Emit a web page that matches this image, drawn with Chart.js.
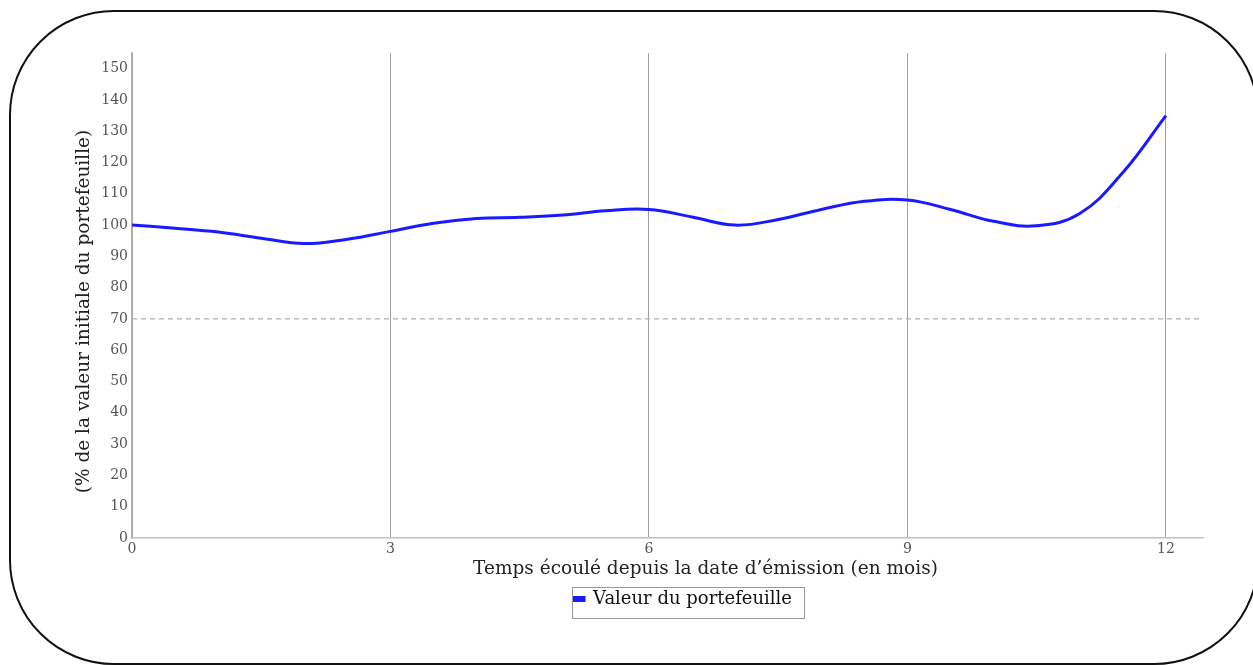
<!DOCTYPE html>
<html>
<head>
<meta charset="utf-8">
<script src="https://cdn.jsdelivr.net/npm/chart.js@4.4.1/dist/chart.umd.min.js"></script>
<style>
  html, body { margin: 0; padding: 0; background: #fff; overflow: hidden; }
  #frame { position: absolute; left: 9px; top: 10px; width: 1246px; height: 651px;
           border: 2px solid #111; border-radius: 105px; }
  #wrap { position: absolute; left: 0; top: 0; width: 1253px; height: 665px; }
</style>
</head>
<body>
<div id="frame"></div>
<div id="wrap"><canvas id="c"></canvas></div>
<script>
const months = [0, 0.5, 1, 1.5, 2, 2.5, 3, 3.5, 4, 4.5, 5, 5.5, 6, 6.5, 7, 7.5, 8, 8.5, 9, 9.5, 10, 10.5, 11, 11.5, 12];
const portfolioValues = [100, 99, 97.8, 95.8, 94.1, 95.5, 98, 100.6, 102.1, 102.5, 103.2, 104.6, 105, 102.6, 100, 101.8, 105, 107.6, 108, 105, 101.2, 99.8, 103.7, 116.8, 135];
const seriesLabel = 'Valeur du portefeuille';
const thresholdLevel = 70;
const xTicks = [0, 3, 6, 9, 12];
const yTicks = [0, 10, 20, 30, 40, 50, 60, 70, 80, 90, 100, 110, 120, 130, 140, 150];
const xTitle = 'Temps écoulé depuis la date d’émission (en mois)';
const yTitle = '(% de la valeur initiale du portefeuille)';

const X_MAX = 12.43;
const Y_MAX = 155;
const FONT = 'DejaVu Serif';

const shiftPlugin = {
  id: 'shiftPlugin',
  beforeDraw(chart) {
    const xs = chart.scales.x;
    if (xs && !xs._patched) {
      const orig = xs.drawTitle.bind(xs);
      xs.drawTitle = function () {
        const l = this.left, r = this.right, dx = 38;
        this.left += dx; this.right += dx;
        orig();
        this.left = l; this.right = r;
      };
      xs._patched = true;
    }
    const ys = chart.scales.y;
    if (ys && !ys._patched) {
      const origY = ys.drawTitle.bind(ys);
      ys.drawTitle = function () {
        const t = this.top, b = this.bottom, dy = 16;
        this.top += dy; this.bottom += dy;
        origY();
        this.top = t; this.bottom = b;
      };
      ys._patched = true;
    }
    const lg = chart.legend;
    if (lg && !lg._patched) {
      const origDraw = lg.draw.bind(lg);
      lg.draw = function () {
        const hb = this.legendHitBoxes[0];
        if (!hb) { origDraw(); return; }
        const target = 683;
        const dx = target - (hb.left + hb.width / 2);
        const l = this.left, r = this.right;
        this.left += dx; this.right += dx;
        origDraw();
        this.left = l; this.right = r;
        const ctx = this.ctx;
        ctx.save();
        ctx.strokeStyle = '#9a9a9a';
        ctx.lineWidth = 1;
        ctx.strokeRect(Math.round(hb.left + dx - 2) + 0.5, Math.round(this.top) + 0.5,
                       Math.round(hb.width + 14), Math.round(this.bottom - this.top));
        ctx.restore();
      };
      lg._patched = true;
    }
  }
};

new Chart(document.getElementById('c'), {
  type: 'line',
  data: {
    datasets: [
      {
        label: seriesLabel,
        data: months.map((m, i) => ({ x: m, y: portfolioValues[i] })),
        borderColor: '#1a1aff',
        backgroundColor: '#1a1aff',
        borderWidth: 3,
        pointRadius: 0,
        tension: 0.4,
        fill: false
      },
      {
        label: 'seuil',
        data: [{ x: 0, y: thresholdLevel }, { x: X_MAX, y: thresholdLevel }],
        borderColor: '#b0b0b0',
        borderWidth: 1.2,
        borderDash: [5, 4],
        pointRadius: 0,
        fill: false
      }
    ]
  },
  options: {
    responsive: true,
    maintainAspectRatio: false,
    animation: false,
    events: [],
    layout: { padding: { left: 66, right: 50, top: 53, bottom: 47 } },
    scales: {
      x: {
        type: 'linear',
        min: 0,
        max: X_MAX,
        afterBuildTicks(scale) { scale.ticks = xTicks.map(v => ({ value: v })); },
        afterFit(scale) { scale.height = 49; },
        ticks: {
          font: { family: FONT, size: 14 },
          color: '#555',
          padding: 3,
          maxRotation: 0,
          callback: v => String(v)
        },
        grid: { display: true, color: '#a0a0a0', lineWidth: 1, drawTicks: false },
        border: { display: true, color: '#c0c0c0', width: 1.5 },
        title: {
          display: true,
          text: xTitle,
          font: { family: FONT, size: 18.5 },
          color: '#222',
          padding: { top: 0, bottom: 7 }
        }
      },
      y: {
        type: 'linear',
        min: 0,
        max: Y_MAX,
        afterBuildTicks(scale) { scale.ticks = yTicks.map(v => ({ value: v })); },
        afterFit(scale) { scale.width = 66; },
        ticks: {
          font: { family: FONT, size: 14 },
          color: '#555',
          padding: 4,
          callback: v => String(v)
        },
        grid: { display: false, drawTicks: false },
        border: { display: true, color: '#b0b0b0', width: 1.5 },
        title: {
          display: true,
          text: yTitle,
          font: { family: FONT, size: 18.5 },
          color: '#222',
          padding: { top: 7, bottom: 0 }
        }
      }
    },
    plugins: {
      legend: {
        display: true,
        position: 'bottom',
        labels: {
          filter: item => item.datasetIndex === 0,
          boxWidth: 10,
          boxHeight: 3,
          padding: 3,
          color: '#111',
          font: { family: FONT, size: 18 }
        }
      },
      tooltip: { enabled: false }
    }
  },
  plugins: [shiftPlugin]
});
</script>
</body>
</html>
